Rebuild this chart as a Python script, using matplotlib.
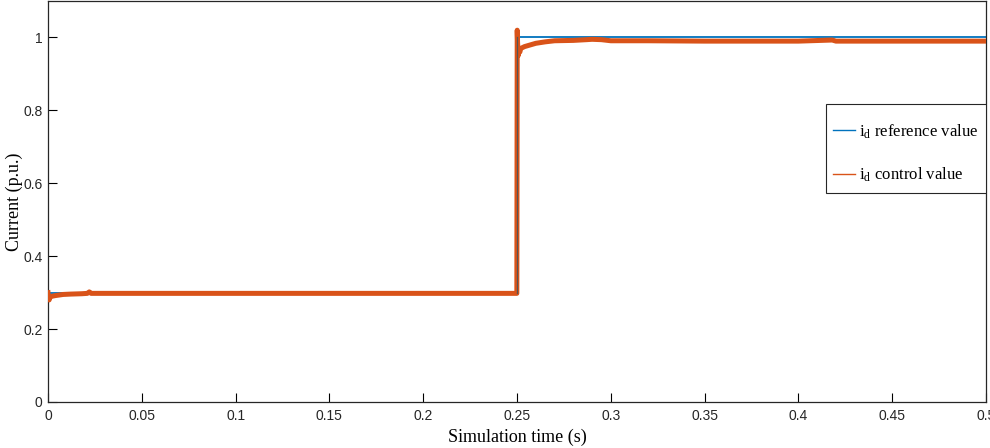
import matplotlib
matplotlib.use("Agg")
import matplotlib.pyplot as plt
from matplotlib.patches import Rectangle

# Reference current command (p.u.)
ref_t = [0.0, 0.25, 0.25, 0.5]
ref_i = [0.30, 0.30, 1.00, 1.00]

# Measured d-axis current from the controller (p.u.)
ctl_t = [0.0, 0.0003, 0.0006, 0.001, 0.002, 0.004, 0.008, 0.012, 0.018, 0.021, 0.022, 0.023,
         0.03, 0.1, 0.2, 0.2499,
         0.2501, 0.2503, 0.2506, 0.251, 0.2515, 0.252, 0.254, 0.256, 0.26, 0.265, 0.27,
         0.28, 0.287, 0.29, 0.295, 0.3, 0.32, 0.35, 0.4, 0.418, 0.42, 0.45, 0.5]
ctl_i = [0.300, 0.285, 0.280, 0.288, 0.290, 0.292, 0.295, 0.296, 0.297, 0.298, 0.302, 0.298,
         0.298, 0.298, 0.298, 0.298,
         1.020, 0.985, 0.950, 0.965, 0.960, 0.970, 0.975, 0.978, 0.984, 0.988, 0.991,
         0.992, 0.994, 0.995, 0.994, 0.991, 0.991, 0.990, 0.990, 0.993, 0.990, 0.990, 0.990]

x_ticks = [0, 0.05, 0.1, 0.15, 0.2, 0.25, 0.3, 0.35, 0.4, 0.45, 0.5]
x_labels = ["0", "0.05", "0.1", "0.15", "0.2", "0.25", "0.3", "0.35", "0.4", "0.45", "0.5"]
y_ticks = [0, 0.2, 0.4, 0.6, 0.8, 1.0]
y_labels = ["0", "0.2", "0.4", "0.6", "0.8", "1"]

plt.rcParams["mathtext.fontset"] = "custom"
plt.rcParams["mathtext.rm"] = "Liberation Serif"
plt.rcParams["mathtext.it"] = "Liberation Serif:italic"

tick_font = "Liberation Sans"
serif = ["Liberation Serif", "DejaVu Serif"]
dark = "#262626"

fig = plt.figure(figsize=(9.9, 4.48), dpi=100)
ax = fig.add_axes([0.0485, 0.1027, 0.9475, 0.895])

ax.plot(ref_t, ref_i, color="#0072BD", lw=1.3, label=r"i$_{\rm d}$ reference value", zorder=2)
ax.plot(ctl_t, ctl_i, color="#D95319", lw=3.6, label=r"i$_{\rm d}$ control value", zorder=3)
ax.plot([0.25, 0.25], [0.298, 1.0], color="#555555", lw=0.9, zorder=4)

ax.set_xlim(0, 0.5)
ax.set_ylim(0, 1.1)
ax.set_xticks(x_ticks)
ax.set_xticklabels(x_labels, fontfamily=tick_font, fontsize=10, color=dark)
ax.set_yticks(y_ticks)
ax.set_yticklabels(y_labels, fontfamily=tick_font, fontsize=10, color=dark)
ax.tick_params(direction="in", length=6.5, width=0.8, top=False, right=False, pad=5)
ax.tick_params(axis="y", pad=4)

ax.set_xlabel("Simulation time (s)", fontfamily=serif, fontsize=13, labelpad=4)
ax.set_ylabel("Current (p.u.)", fontfamily=serif, fontsize=13)
ax.yaxis.set_label_coords(-0.027, 0.5)

for s in ax.spines.values():
    s.set_color(dark)
    s.set_linewidth(0.9)

# legend entries without their own frame, boxed by a separate rectangle
leg = ax.legend(loc="upper left", bbox_to_anchor=(0.837, 0.698),
                prop={"family": serif, "size": 12.1}, frameon=False,
                handlelength=1.3, handletextpad=0.25,
                labelspacing=1.5, borderpad=0.0, borderaxespad=0.0)
for h in leg.get_lines():
    h.set_linewidth(1.0)
ax.add_patch(Rectangle((0.829, 0.521), 0.171, 0.222, transform=ax.transAxes,
                       facecolor="white", edgecolor=dark, lw=0.8, zorder=4.9))
leg.set_zorder(5)

fig.savefig("out.png", dpi=100)
